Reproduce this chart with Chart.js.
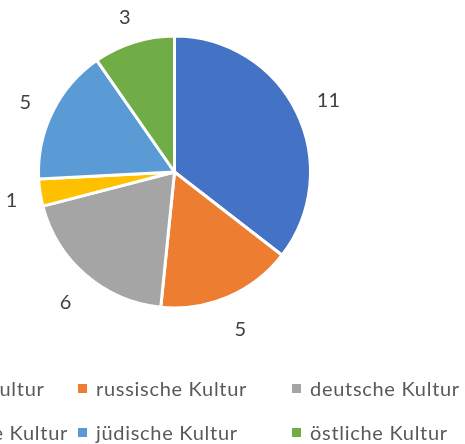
<!DOCTYPE html>
<html>
<head>
<meta charset="utf-8">
<script src="https://cdn.jsdelivr.net/npm/chart.js@4/dist/chart.umd.min.js"></script>
<style>
  html, body { margin: 0; padding: 0; background: #fff; }
  #wrap { position: relative; width: 465px; height: 444px; overflow: hidden; }
  #kultur { position: absolute; left: 0; top: 0; }
  #legend {
    position: absolute; left: -136px; top: 376px;
    display: grid; grid-template-columns: 214px 214px 214px; row-gap: 20px;
    font-family: Lato, "Open Sans", sans-serif; font-size: 20px; letter-spacing: 0.7px; color: #595959;
  }
  .item { display: flex; align-items: center; white-space: nowrap; height: 24px; }
  .box { width: 9px; height: 9px; margin-right: 9px; flex: none; }
</style>
</head>
<body>
<div id="wrap">
  <canvas id="kultur" width="465" height="444"></canvas>
  <div id="legend"></div>
</div>
<script>
let kLabels = ['israelische Kultur', 'russische Kultur', 'deutsche Kultur', 'moldawische Kultur', 'jüdische Kultur', 'östliche Kultur']
let kValues = [11, 5, 6, 1, 5, 3]
let kColors = ['#4472C4', '#ED7D31', '#A5A5A5', '#FFC000', '#5B9BD5', '#70AD47']

// Werte außerhalb der Segmente
let outsideLabels = {
    id: 'outsideLabels',
    afterDatasetsDraw(chart) {
        let ctx = chart.ctx
        let meta = chart.getDatasetMeta(0)
        ctx.save()
        ctx.font = '20px Lato, "Open Sans", sans-serif'
        ctx.fillStyle = '#404040'
        ctx.textAlign = 'center'
        ctx.textBaseline = 'middle'
        meta.data.forEach((arc, i) => {
            let p = arc.getProps(['x', 'y', 'startAngle', 'endAngle', 'outerRadius'])
            let mid = (p.startAngle + p.endAngle) / 2
            let txt = String(chart.data.datasets[0].data[i])
            let w = ctx.measureText(txt).width
            let c = Math.cos(mid), s = Math.sin(mid)
            let d = p.outerRadius + 22 + Math.abs(c) * w / 2 + Math.abs(s) * 7
            ctx.fillText(txt, p.x + c * d, p.y + s * d + 4)
        })
        ctx.restore()
    }
}

let kctx = document.getElementById('kultur').getContext('2d')
let kulturChart = new Chart(kctx, {
    type: 'pie',
    data: {
        labels: kLabels,
        datasets: [{
            data: kValues,
            backgroundColor: kColors,
            borderColor: '#ffffff',
            borderWidth: 3
        }]
    },
    options: {
        responsive: false,
        animation: false,
        layout: { padding: { top: 34, bottom: 134, left: 37, right: 153 } },
        plugins: {
            legend: { display: false },
            tooltip: { enabled: false }
        }
    },
    plugins: [outsideLabels]
})

// Legende im Raster wie in Excel
let legendEl = document.getElementById('legend')
kulturChart.data.labels.forEach((lbl, i) => {
    let item = document.createElement('div')
    item.className = 'item'
    let box = document.createElement('span')
    box.className = 'box'
    box.style.background = kulturChart.data.datasets[0].backgroundColor[i]
    let t = document.createElement('span')
    t.textContent = lbl
    item.appendChild(box)
    item.appendChild(t)
    legendEl.appendChild(item)
})
</script>
</body>
</html>
